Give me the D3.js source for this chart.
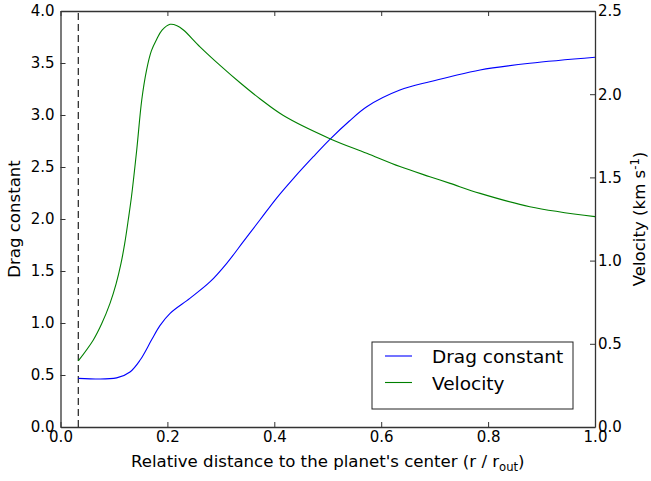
<!DOCTYPE html>
<html>
<head>
<meta charset="utf-8">
<script src="https://cdn.jsdelivr.net/npm/d3@7"></script>
<style>
  html, body { margin: 0; padding: 0; background: #fff; }
  svg { display: block; font-family: "DejaVu Sans", sans-serif; }
</style>
</head>
<body>
<svg id="chart" width="651" height="481"></svg>
<script>
// Relative radius (r / r_out) sampled along the drag-constant profile
const dragR = [0.0333, 0.105, 0.130, 0.149, 0.171, 0.186, 0.205, 0.242, 0.280, 0.311, 0.342, 0.373, 0.404, 0.436, 0.473, 0.504, 0.540, 0.573, 0.635, 0.691, 0.729, 0.785, 0.878, 1.0];
const dragValues = [0.468, 0.472, 0.529, 0.644, 0.843, 0.975, 1.093, 1.237, 1.397, 1.574, 1.782, 1.990, 2.199, 2.391, 2.599, 2.766, 2.940, 3.080, 3.240, 3.320, 3.368, 3.433, 3.497, 3.555];

// Relative radius sampled along the velocity profile (km/s)
const velR = [0.0333, 0.0614, 0.077, 0.0926, 0.104, 0.113, 0.120, 0.127, 0.133, 0.1426, 0.152, 0.161, 0.170, 0.180, 0.190, 0.205, 0.218, 0.230, 0.261, 0.298, 0.336, 0.373, 0.417, 0.504, 0.573, 0.635, 0.691, 0.729, 0.785, 0.878, 1.0];
const velValues = [0.397, 0.523, 0.620, 0.743, 0.860, 0.980, 1.100, 1.250, 1.390, 1.665, 1.965, 2.145, 2.260, 2.330, 2.385, 2.420, 2.412, 2.386, 2.285, 2.175, 2.069, 1.973, 1.872, 1.733, 1.645, 1.565, 1.504, 1.464, 1.404, 1.324, 1.264];

const innerEdge = 0.0333;            // inner boundary marked with a dashed line
const xTicks = [0.0, 0.2, 0.4, 0.6, 0.8, 1.0];
const dragTicks = [0.0, 0.5, 1.0, 1.5, 2.0, 2.5, 3.0, 3.5, 4.0];
const velTicks = [0.0, 0.5, 1.0, 1.5, 2.0, 2.5];

const margin = { left: 60.5, right: 56, top: 11, bottom: 54 };
const W = 651, H = 481;
const svg = d3.select("#chart");

const x = d3.scaleLinear().domain([0, 1]).range([margin.left, W - margin.right]);
const yL = d3.scaleLinear().domain([0, 4]).range([H - margin.bottom, margin.top]);
const yR = d3.scaleLinear().domain([0, 2.5]).range([H - margin.bottom, margin.top]);

const tickFs = 15;
const labelFs = 16.6;
const axisColor = "#333";
const tickLen = 5;

// Curves
const dragLine = d3.line().x(d => x(d[0])).y(d => yL(d[1])).curve(d3.curveCatmullRom.alpha(0.5));
const velLine = d3.line().x(d => x(d[0])).y(d => yR(d[1])).curve(d3.curveCatmullRom.alpha(0.5));

svg.append("line")
  .attr("x1", x(innerEdge)).attr("x2", x(innerEdge))
  .attr("y1", yL(0)).attr("y2", yL(4))
  .attr("stroke", "#222").attr("stroke-width", 1.2)
  .attr("stroke-dasharray", "7,4");

svg.append("path")
  .datum(d3.zip(dragR, dragValues))
  .attr("d", dragLine)
  .attr("fill", "none").attr("stroke", "#0000ff").attr("stroke-width", 1.1);

svg.append("path")
  .datum(d3.zip(velR, velValues))
  .attr("d", velLine)
  .attr("fill", "none").attr("stroke", "#008000").attr("stroke-width", 1.1);

// Inward-pointing axes: bottom (labelled), top (ticks only), left drag, right velocity
const fmt = d3.format(".1f");
const g = svg.append("g");

const axBottom = g.append("g").attr("transform", `translate(0,${yL(0)})`)
  .call(d3.axisBottom(x).tickValues(xTicks).tickFormat(fmt).tickSizeInner(-tickLen).tickSizeOuter(0).tickPadding(4));
const axTop = g.append("g").attr("transform", `translate(0,${yL(4)})`)
  .call(d3.axisTop(x).tickValues(xTicks).tickFormat("").tickSizeInner(-tickLen).tickSizeOuter(0));
const axLeft = g.append("g").attr("transform", `translate(${x(0)},0)`)
  .call(d3.axisLeft(yL).tickValues(dragTicks).tickFormat(fmt).tickSizeInner(-tickLen).tickSizeOuter(0).tickPadding(6));
const axRight = g.append("g").attr("transform", `translate(${x(1)},0)`)
  .call(d3.axisRight(yR).tickValues(velTicks).tickFormat(fmt).tickSizeInner(-tickLen).tickSizeOuter(0).tickPadding(3));

[axBottom, axTop, axLeft, axRight].forEach(a => {
  a.select(".domain").attr("stroke", axisColor).attr("stroke-width", 1.3);
  a.selectAll(".tick line").attr("stroke", axisColor).attr("stroke-width", 1);
  a.selectAll("text").attr("font-size", tickFs).attr("fill", "#000").attr("font-family", "DejaVu Sans");
});

// Axis titles
svg.append("text")
  .attr("x", (x(0) + x(1)) / 2).attr("y", 467)
  .attr("text-anchor", "middle").attr("font-size", labelFs)
  .call(t => {
    t.append("tspan").text("Relative distance to the planet's center (r / r");
    t.append("tspan").attr("font-size", labelFs * 0.7).attr("dy", 4).text("out");
    t.append("tspan").attr("dy", -4).text(")");
  });

svg.append("text")
  .attr("transform", `translate(20,${(yL(0) + yL(4)) / 2}) rotate(-90)`)
  .attr("text-anchor", "middle").attr("font-size", labelFs)
  .text("Drag constant");

svg.append("text")
  .attr("transform", `translate(645,${(yL(0) + yL(4)) / 2}) rotate(-90)`)
  .attr("text-anchor", "middle").attr("font-size", labelFs)
  .call(t => {
    t.append("tspan").text("Velocity (km s");
    t.append("tspan").attr("font-size", labelFs * 0.7).attr("dy", -6).text("-1");
    t.append("tspan").attr("dy", 6).text(")");
  });

// Legend
const legend = svg.append("g");
legend.append("rect")
  .attr("x", 372).attr("y", 342).attr("width", 201).attr("height", 67)
  .attr("fill", "#fff").attr("stroke", "#222").attr("stroke-width", 1);
const entries = [["Drag constant", "#0000ff"], ["Velocity", "#008000"]];
entries.forEach(([label, color], i) => {
  const yy = 356 + i * 26.5;
  legend.append("line").attr("x1", 385).attr("x2", 412).attr("y1", yy).attr("y2", yy)
    .attr("stroke", color).attr("stroke-width", 1.1);
  legend.append("text").attr("x", 432).attr("y", yy + 7)
    .attr("font-size", 18.5).text(label);
});
</script>
</body>
</html>
